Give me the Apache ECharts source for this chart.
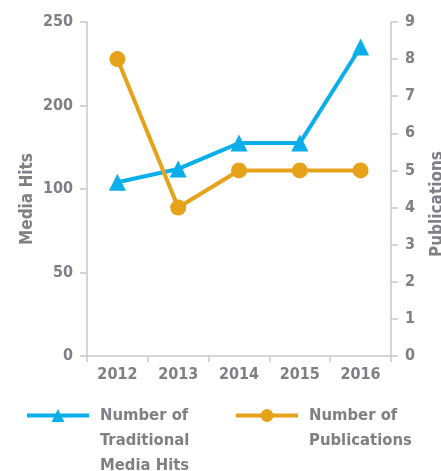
<!DOCTYPE html>
<html lang="en">
<head>
  <meta charset="UTF-8">
  <title>Media Hits and Publications</title>
  <script src="https://cdn.jsdelivr.net/npm/echarts@6/dist/echarts.min.js"></script>
  <style>
    html, body { margin: 0; padding: 0; background: #fff; }
    #chart { width: 441px; height: 471px; }
  </style>
</head>
<body>
  <div id="chart"></div>
  <script>
    // data
    var years = ['2012', '2013', '2014', '2015', '2016'];
    var mediaHits = [108, 124, 155, 155, 235];
    var publications = [8, 4, 5, 5, 5];
    // the left axis in the original is evenly spaced with these labels
    var hitTicks = [0, 50, 100, 200, 250];
    var pubTicks = [0, 1, 2, 3, 4, 5, 6, 7, 8, 9];

    var blue = '#09aeea';
    var orange = '#e6a21a';
    var grey = '#7f7f85';
    var axisGrey = '#c9c9c9';
    var font = '"Liberation Sans Narrow", "DejaVu Sans Condensed", sans-serif';

    // place a hit value on the evenly spaced tick slots
    function hitSlot(v) {
      for (var i = 1; i < hitTicks.length; i++) {
        if (v <= hitTicks[i]) {
          return i - 1 + (v - hitTicks[i - 1]) / (hitTicks[i] - hitTicks[i - 1]);
        }
      }
      return hitTicks.length - 1;
    }

    var hitsName = 'Number of Traditional Media Hits';
    var pubsName = 'Number of Publications';

    var chart = echarts.init(document.getElementById('chart'));
    var labelStyle = { color: grey, fontFamily: font, fontWeight: 'bold', fontSize: 16 };
    var legendText = { color: grey, fontFamily: font, fontWeight: 'bold', fontSize: 16.5, lineHeight: 25, padding: [0, 0, 0, 6] };
    chart.setOption({
      animation: false,
      grid: { left: 87, right: 50, top: 22, bottom: 115, outerBoundsMode: 'none' },
      legend: [
        {
          data: [hitsName], left: 25, top: 353, padding: 0,
          itemWidth: 62, itemHeight: 16,
          lineStyle: { width: 4 },
          formatter: function () { return '\n\nNumber of\nTraditional\nMedia Hits'; },
          textStyle: legendText
        },
        {
          data: [pubsName], left: 234, top: 353, padding: 0,
          itemWidth: 62, itemHeight: 16,
          lineStyle: { width: 4 },
          formatter: function () { return '\n\nNumber of\nPublications\n'; },
          textStyle: legendText
        }
      ],
      xAxis: {
        type: 'category',
        data: years,
        boundaryGap: true,
        axisLine: { lineStyle: { color: axisGrey, width: 1.5 } },
        axisTick: { show: true, length: 6, lineStyle: { color: axisGrey, width: 1.5 } },
        axisLabel: Object.assign({ margin: 11, interval: 0 }, labelStyle)
      },
      yAxis: [
        {
          type: 'value', min: 0, max: hitTicks.length - 1, interval: 1,
          name: 'Media Hits', nameLocation: 'middle', nameGap: 51, nameRotate: 90,
          nameMoveOverlap: false,
          nameTextStyle: Object.assign({}, labelStyle, { fontSize: 17, padding: [0, 20, 0, 0] }),
          axisLine: { show: true, lineStyle: { color: axisGrey, width: 1.5 } },
          axisTick: { show: true, length: 7, lineStyle: { color: axisGrey, width: 1.5 } },
          axisLabel: Object.assign({ margin: 14, formatter: function (v) { return String(hitTicks[v]); } }, labelStyle),
          splitLine: { show: false }
        },
        {
          type: 'value', min: 0, max: pubTicks[pubTicks.length - 1], interval: 1,
          position: 'right',
          name: 'Publications', nameLocation: 'middle', nameGap: 38, nameRotate: 90,
          nameMoveOverlap: false,
          nameTextStyle: Object.assign({}, labelStyle, { fontSize: 17, padding: [0, 30, 0, 0] }),
          axisLine: { show: true, lineStyle: { color: axisGrey, width: 1.5 } },
          axisTick: { show: true, length: 7, lineStyle: { color: axisGrey, width: 1.5 } },
          axisLabel: Object.assign({ margin: 14 }, labelStyle),
          splitLine: { show: false }
        }
      ],
      series: [
        {
          name: hitsName, type: 'line', yAxisIndex: 0,
          data: mediaHits.map(hitSlot),
          symbol: 'triangle', symbolSize: 17,
          lineStyle: { color: blue, width: 4 },
          itemStyle: { color: blue }
        },
        {
          name: pubsName, type: 'line', yAxisIndex: 1,
          data: publications,
          symbol: 'circle', symbolSize: 16,
          lineStyle: { color: orange, width: 4 },
          itemStyle: { color: orange }
        }
      ]
    });
  </script>
</body>
</html>
